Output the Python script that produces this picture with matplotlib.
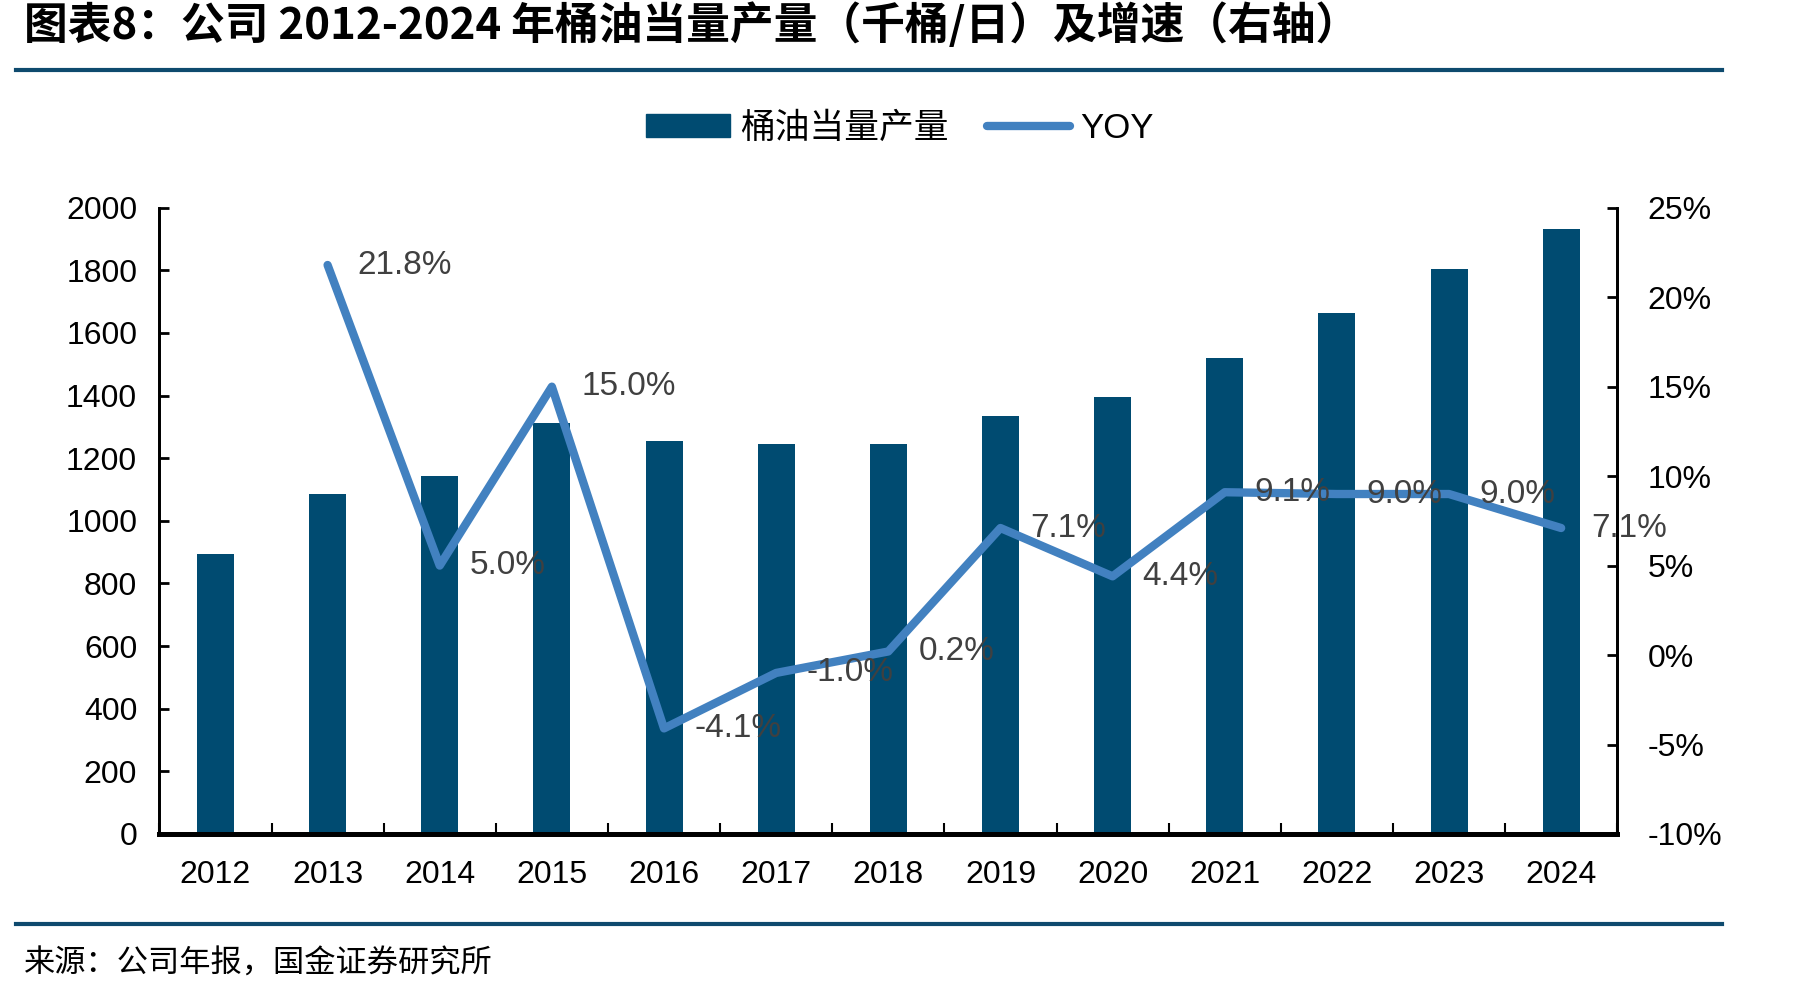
import numpy as np
import matplotlib.pyplot as plt
from matplotlib.lines import Line2D
from matplotlib.patches import Patch
from matplotlib.ticker import FuncFormatter

plt.rcParams['font.family'] = ['Liberation Sans', 'Noto Sans CJK SC']

years = ['2012', '2013', '2014', '2015', '2016', '2017', '2018',
         '2019', '2020', '2021', '2022', '2023', '2024']
output = [893, 1085, 1142, 1312, 1255, 1246, 1246, 1336, 1394, 1521, 1663, 1804, 1931]
yoy = [np.nan, 21.8, 5.0, 15.0, -4.1, -1.0, 0.2, 7.1, 4.4, 9.1, 9.0, 9.0, 7.1]

bar_color = '#004B71'
line_color = '#4281C0'
rule_color = '#0E4A6E'

fig = plt.figure(figsize=(18.11, 9.94), dpi=100)
ax = fig.add_axes([0.088, 0.161, 0.805, 0.630])
ax2 = ax.twinx()

x = np.arange(len(years))
ax.bar(x, output, width=0.33, color=bar_color)
ax.set_xlim(-0.5, len(years) - 0.5)
ax.set_ylim(0, 2000)
ax.set_yticks(np.arange(0, 2001, 200))
ax.set_xticks(x)
ax.set_xticklabels(years)
ax.set_xticks(np.arange(-0.5, len(years), 1), minor=True)
ax.tick_params(axis='x', which='major', length=0, pad=19, labelsize=23)
ax.tick_params(axis='x', which='minor', direction='in', length=8, width=1.5)
ax.tick_params(axis='y', direction='in', length=7, width=2, pad=16, labelsize=23)

ax2.plot(x, yoy, color=line_color, lw=6, solid_capstyle='round', zorder=3)
ax2.set_ylim(-10, 25)
ax2.set_yticks(np.arange(-10, 26, 5))
ax2.yaxis.set_major_formatter(FuncFormatter(lambda v, p: f'{v:.0f}%'))
ax2.tick_params(axis='y', direction='in', length=7, width=2, pad=22, labelsize=23)

for xi, v in zip(x, yoy):
    if np.isnan(v):
        continue
    ax2.annotate(f'{v:.1f}%', (xi, v), xytext=(30, 0), textcoords='offset pixels',
                 ha='left', va='center', fontsize=24, color='#404040', zorder=4)

for a in (ax, ax2):
    a.spines['top'].set_visible(False)
    a.spines['left'].set_linewidth(2)
    a.spines['right'].set_linewidth(2)
    a.spines['bottom'].set_linewidth(3.5)

handles = [Patch(color=bar_color), Line2D([], [], color=line_color, lw=6, solid_capstyle='round')]
leg = fig.legend(handles, ['桶油当量产量', 'YOY'], loc='center', ncol=2,
                 bbox_to_anchor=(0.497, 0.871), frameon=False, fontsize=25,
                 handlelength=2.4, handleheight=0.65, handletextpad=0.3, columnspacing=1.1)
leg.get_texts()[0].set_family(['Noto Sans CJK SC'])

fig.text(0.013, 0.975, '图表8：公司 2012-2024 年桶油当量产量（千桶/日）及增速（右轴）',
         fontsize=31.5, fontweight='bold', va='center', ha='left',
         family=['Noto Sans CJK SC'])
fig.add_artist(Line2D([0.009, 0.951], [0.930, 0.930], color=rule_color, lw=3))
fig.add_artist(Line2D([0.009, 0.951], [0.070, 0.070], color=rule_color, lw=3))
fig.text(0.013, 0.031, '来源：公司年报，国金证券研究所', fontsize=22.5, va='center',
         ha='left', family=['Noto Sans CJK SC'])

fig.savefig('out.png', dpi=100)
